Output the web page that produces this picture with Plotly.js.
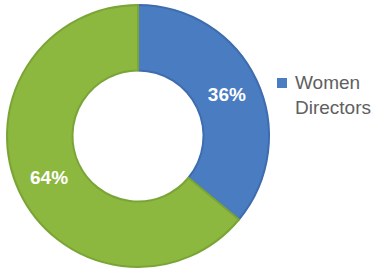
<!DOCTYPE html>
<html><head><meta charset="utf-8">
<script src="https://cdn.plot.ly/plotly-3.0.1.min.js"></script>
<style>html,body{margin:0;padding:0;background:#fff}#c{width:381px;height:273px}</style>
</head><body><div id="c"></div>
<script>
const labels = ['Women Directors', 'Men Directors'];
const values = [36, 64];
const colors = ['#4a7cc1', '#8cb83f'];
const edgeColors = ['#3e6cae', '#7aa536'];
const legendLabel = 'Women<br>Directors';

const W = 381, H = 273;
const data = [{
  type: 'pie', labels: labels, values: values, hole: 0.5,
  sort: false, direction: 'clockwise', rotation: 0,
  marker: {colors: colors, line: {color: edgeColors, width: 2}},
  textinfo: 'percent', textposition: 'inside', insidetextorientation: 'horizontal',
  textfont: {family: 'Liberation Sans, Arial, sans-serif', size: 19, color: '#ffffff', weight: 'bold'},
  domain: {x: [7/W, 269/W], y: [6/H, 268/H]},
  showlegend: false, hoverinfo: 'none'
}];
const layout = {
  width: W, height: H, margin: {l:0, r:0, t:0, b:0},
  paper_bgcolor: '#fff', showlegend: false,
  shapes: [{type: 'rect', xref: 'paper', yref: 'paper',
    x0: 277/W, x1: 287/W, y0: 1 - 88/H, y1: 1 - 78/H,
    fillcolor: colors[0], line: {width: 0}}],
  annotations: [{xref: 'paper', yref: 'paper', x: 293/W, y: 1 - 70/H,
    xanchor: 'left', yanchor: 'top', align: 'left', showarrow: false,
    text: legendLabel,
    font: {family: 'Liberation Sans, Arial, sans-serif', size: 19, color: '#606060'}}]
};
Plotly.newPlot('c', data, layout, {staticPlot: true, displayModeBar: false});
</script></body></html>
